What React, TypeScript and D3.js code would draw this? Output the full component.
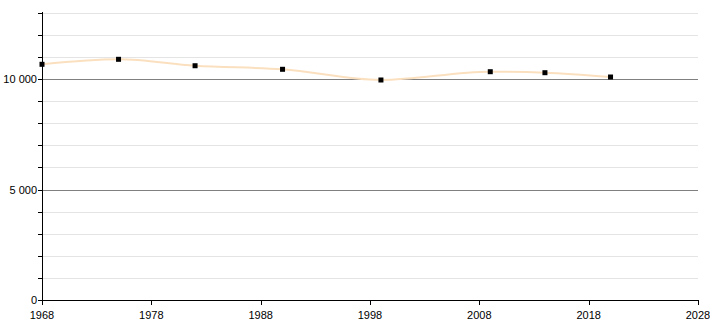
import React from "react";
import * as d3 from "d3";

const years = [1968, 1975, 1982, 1990, 1999, 2009, 2014, 2020];
const values = [10665, 10891, 10600, 10439, 9955, 10330, 10285, 10090];
const xTicks = [1968, 1978, 1988, 1998, 2008, 2018, 2028];
const yMajor = [0, 5000, 10000];
const yMinor = [1000, 2000, 3000, 4000, 6000, 7000, 8000, 9000, 11000, 12000, 13000];

export default function App() {
  const W = 710, H = 320;
  const left = 42, right = 698, top = 12, bottom = 300;
  const x = d3.scaleLinear().domain([1968, 2028]).range([left, right]);
  const y = d3.scaleLinear().domain([0, 13000]).range([bottom, top + 0.7]);
  const line = d3
    .line<number>()
    .x((_, i) => x(years[i]))
    .y((v) => y(v))
    .curve(d3.curveMonotoneX);
  const font = "'Liberation Sans', Arial, sans-serif";
  return (
    <svg width={W} height={H} style={{ position: "absolute", left: 0, top: 0 }} fontFamily={font}>
      <rect width={W} height={H} fill="#fff" />
      {yMinor.map((v) => (
        <line key={"g" + v} x1={left} x2={right} y1={Math.round(y(v)) + 0.5} y2={Math.round(y(v)) + 0.5} stroke="#e4e4e4" />
      ))}
      {yMajor.filter((v) => v > 0).map((v) => (
        <line key={"G" + v} x1={left} x2={right} y1={Math.round(y(v)) + 0.5} y2={Math.round(y(v)) + 0.5} stroke="#808080" />
      ))}
      <path d={line(values) || ""} fill="none" stroke="#fbe0c0" strokeWidth={2} />
      {values.map((v, i) => (
        <rect key={"m" + i} x={x(years[i]) - 2.5} y={y(v) - 2.5} width={5} height={5} fill="#000" />
      ))}
      {/* y axis */}
      <line x1={left + 0.5} x2={left + 0.5} y1={top} y2={bottom} stroke="#000" />
      {[...yMajor, ...yMinor].map((v) => (
        <line key={"t" + v} x1={left - 4} x2={left} y1={Math.round(y(v)) + 0.5} y2={Math.round(y(v)) + 0.5} stroke="#000" />
      ))}
      {yMajor.map((v) => (
        <text key={"l" + v} x={left - 5} y={y(v) + 4} fontSize={11} textAnchor="end" fill="#000">
          {d3.format(",")(v).replace(/,/g, " ")}
        </text>
      ))}
      {/* x axis */}
      <line x1={left} x2={right + 0.5} y1={bottom + 0.5} y2={bottom + 0.5} stroke="#000" />
      {xTicks.map((t) => (
        <g key={"x" + t}>
          <line x1={Math.round(x(t)) + 0.5} x2={Math.round(x(t)) + 0.5} y1={bottom} y2={bottom + 5} stroke="#000" />
          <text x={x(t)} y={bottom + 19} fontSize={11} textAnchor="middle" fill="#000">
            {t}
          </text>
        </g>
      ))}
    </svg>
  );
}
